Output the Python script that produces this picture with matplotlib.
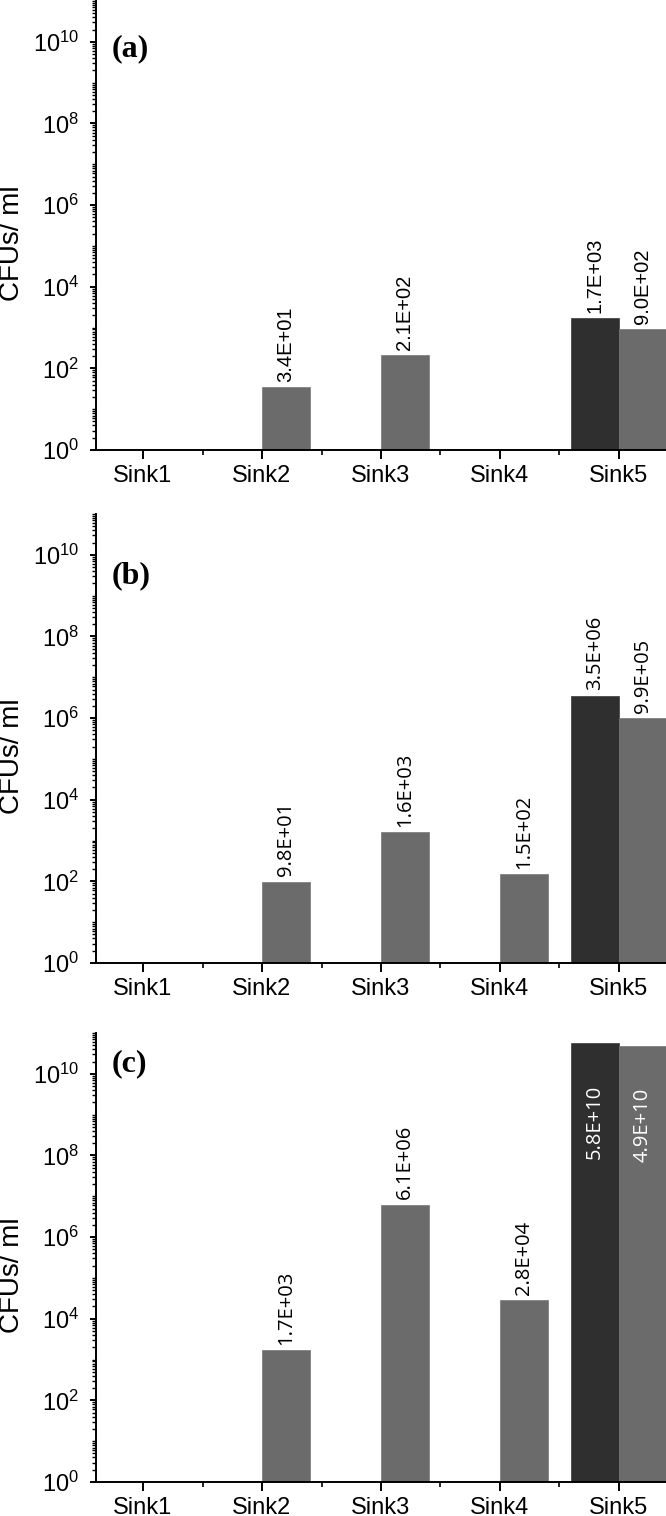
import numpy as np
import matplotlib
matplotlib.use("Agg")
import matplotlib.pyplot as plt
from matplotlib.ticker import LogLocator, FixedLocator, NullFormatter, LogFormatterSciNotation

plt.rcParams['font.family'] = ['Liberation Sans', 'DejaVu Sans']
plt.rcParams['mathtext.fontset'] = 'custom'
plt.rcParams['mathtext.rm'] = 'Liberation Sans'
plt.rcParams['mathtext.it'] = 'Liberation Sans:italic'
plt.rcParams['mathtext.bf'] = 'Liberation Sans:bold'

categories = ['Sink1', 'Sink2', 'Sink3', 'Sink4', 'Sink5']
panel_tags = ['(a)', '(b)', '(c)']

# series 1 (dark) and series 2 (gray), NaN = no bar
dark_a = [np.nan, np.nan, np.nan, np.nan, 1.7e3]
gray_a = [np.nan, 3.4e1, 2.1e2, np.nan, 9.0e2]
dark_b = [np.nan, np.nan, np.nan, np.nan, 3.5e6]
gray_b = [np.nan, 9.8e1, 1.6e3, 1.5e2, 9.9e5]
dark_c = [np.nan, np.nan, np.nan, np.nan, 5.8e10]
gray_c = [np.nan, 1.7e3, 6.1e6, 2.8e4, 4.9e10]

panels = [(dark_a, gray_a), (dark_b, gray_b), (dark_c, gray_c)]

DARK = '#2f2f2f'
GRAY = '#6b6b6b'

W, H = 666, 1516
fig = plt.figure(figsize=(W / 100, H / 100), dpi=100)

left = 96 / W
width = (W - 96) / W
ax_h = 449 / H
bottoms_px = [450, 963, 1482]
tag_y = [0.893, 0.862, 0.931]
label_font = ['Liberation Sans', 'Open Sans', 'Open Sans']

x = np.arange(1, len(categories) + 1)
bw = 0.4

for i, (dark, gray) in enumerate(panels):
    ax = fig.add_axes([left, 1 - bottoms_px[i] / H, width, ax_h])
    ax.set_yscale('log')
    ax.set_ylim(1, 1e11)
    ax.set_xlim(0.605, 5.395)

    dark = np.array(dark, dtype=float)
    gray = np.array(gray, dtype=float)
    md = ~np.isnan(dark)
    mg = ~np.isnan(gray)
    bd = ax.bar(x[md] - bw / 2, dark[md], width=bw, color=DARK, edgecolor='#3a3a3a', linewidth=0.5, zorder=2)
    bg = ax.bar(x[mg] + bw / 2, gray[mg], width=bw, color=GRAY, edgecolor='#777777', linewidth=0.5, zorder=2)

    for bars, vals in ((bd, dark[md]), (bg, gray[mg])):
        for rect, v in zip(bars, vals):
            cx = rect.get_x() + rect.get_width() / 2
            txt = f"{v:.1E}"
            if v > 1e9:
                ax.annotate(txt, (cx, v), xytext=(0, -30), textcoords='offset points',
                            rotation=90, ha='center', va='top', color='white',
                            fontsize=14.5, family=label_font[i], zorder=3)
            else:
                ax.annotate(txt, (cx, v), xytext=(0, 4), textcoords='offset points',
                            rotation=90, ha='center', va='bottom', color='black',
                            fontsize=14.5, family=label_font[i], zorder=3)

    # spines
    for s in ('top', 'right'):
        ax.spines[s].set_visible(False)
    for s in ('left', 'bottom'):
        ax.spines[s].set_linewidth(1.4)

    # y ticks
    ax.yaxis.set_major_locator(FixedLocator([10.0 ** k for k in range(0, 11, 2)]))
    ax.yaxis.set_major_formatter(LogFormatterSciNotation())
    ax.yaxis.set_minor_locator(LogLocator(base=10, subs=np.arange(1, 10), numticks=30))
    ax.yaxis.set_minor_formatter(NullFormatter())
    ax.tick_params(axis='y', which='major', direction='out', length=4, width=1.4, labelsize=17, pad=8)
    ax.tick_params(axis='y', which='minor', direction='out', length=2.6, width=1.0)

    # x ticks
    ax.set_xticks(x)
    ax.set_xticklabels(categories)
    ax.set_xticks(x[:-1] + 0.5, minor=True)
    ax.tick_params(axis='x', which='major', direction='out', length=6.5, width=1.4, labelsize=17, pad=4)
    ax.tick_params(axis='x', which='minor', direction='out', length=3.6, width=1.2)

    ax.set_ylabel('CFUs/ ml', fontsize=20)
    ax.yaxis.set_label_coords(-0.125, 0.46)

    ax.text(0.028, tag_y[i], panel_tags[i], transform=ax.transAxes,
            fontsize=23, fontweight='bold', family='Liberation Serif',
            ha='left', va='center')

fig.savefig('out.png', dpi=100)
